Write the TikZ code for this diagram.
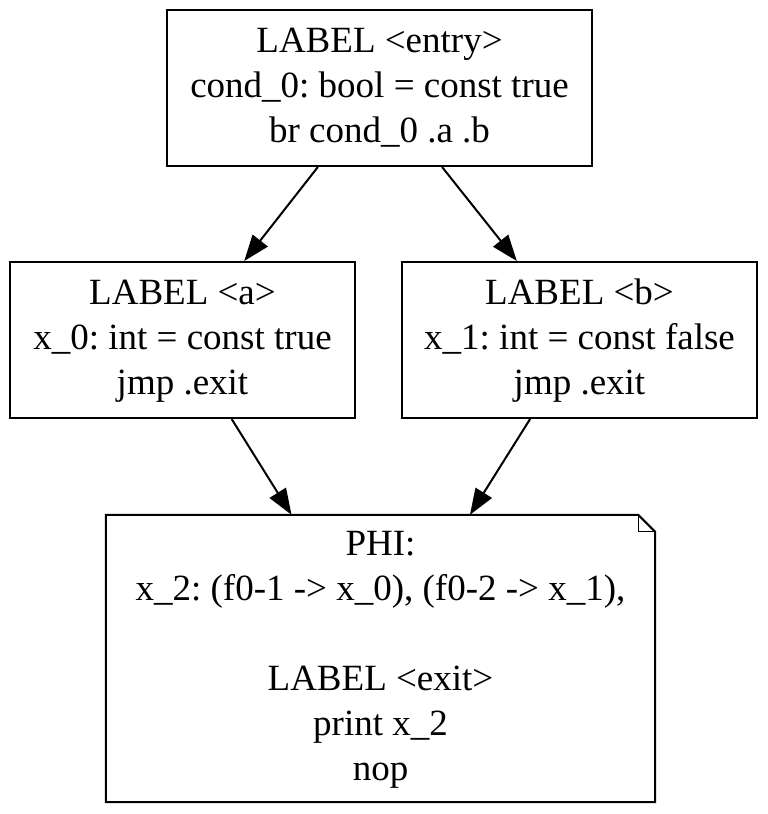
\documentclass[tikz,border=0pt]{standalone}
\usepackage{fontspec}
\setmainfont{Liberation Serif}
\usetikzlibrary{arrows.meta,calc}
\newcommand{\lines}[1]{\raisebox{-3pt}{\begin{tabular}{@{}c@{}}#1\end{tabular}}}
\begin{document}
\frenchspacing
\begin{tikzpicture}[x=1pt,y=-1pt,
  blk/.style={draw,line width=2pt,inner sep=0pt,
    font=\fontsize{37}{45}\selectfont\frenchspacing,minimum height=156pt},
  notebox/.style={inner sep=0pt,font=\fontsize{37}{45}\selectfont\frenchspacing,
    minimum width=549pt,minimum height=287pt},
  edge/.style={line width=2pt,-{Triangle[length=26pt,width=19pt]}}]
\useasboundingbox (0,0) rectangle (768,814);
\node[blk,minimum width=425pt] (entry) at (379.5,88)
  {\lines{LABEL <entry>\\cond\_0: bool = const true\\br cond\_0 .a .b}};
\node[blk,minimum width=345pt] (a) at (182.5,340)
  {\lines{LABEL <a>\\x\_0: int = const true\\jmp .exit}};
\node[blk,minimum width=355pt] (b) at (579.5,340)
  {\lines{LABEL <b>\\x\_1: int = const false\\jmp .exit}};
\node[notebox] (exit) at (380.5,658.5)
  {\lines{PHI:\\x\_2: (f0-1 -> x\_0), (f0-2 -> x\_1),\\ \\LABEL <exit>\\print x\_2\\nop}};
\draw[line width=2pt,line join=miter]
  (exit.north west) -- ($(exit.north east)+(-17,0)$) -- ($(exit.north east)+(0,17)$)
  -- (exit.south east) -- (exit.south west) -- cycle;
\draw[line width=1pt]
  ($(exit.north east)+(-17,0)$) -- ($(exit.north east)+(-17,17)$) -- ($(exit.north east)+(0,17)$);
\draw[edge] (entry) -- (a);
\draw[edge] (entry) -- (b);
\draw[edge] (a) -- (exit);
\draw[edge] (b) -- (exit);
\end{tikzpicture}
\end{document}
